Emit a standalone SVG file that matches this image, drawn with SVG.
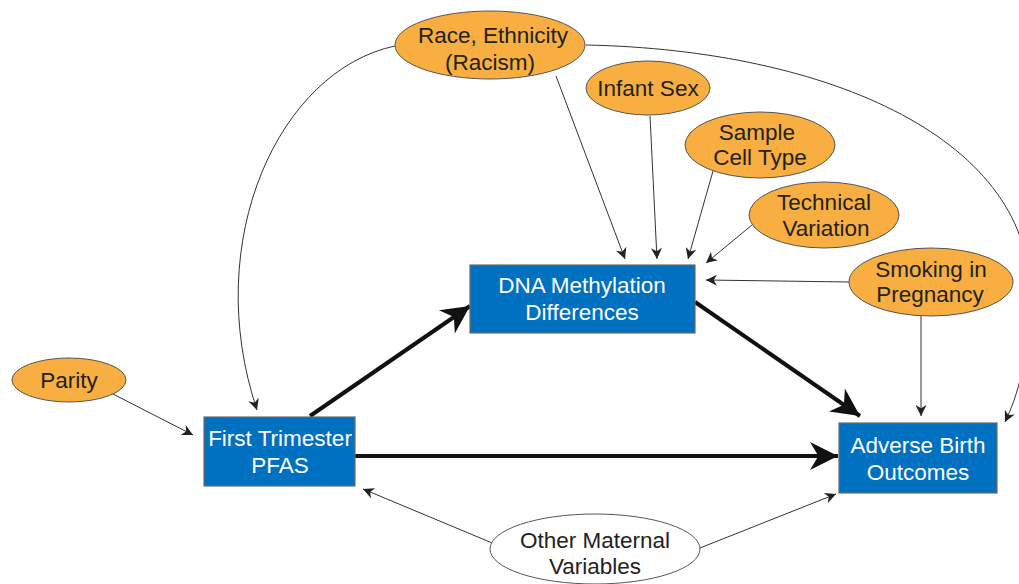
<svg xmlns="http://www.w3.org/2000/svg" width="1019" height="584" viewBox="0 0 1019 584">
<style>
.ell{fill:#F8AE40;stroke:#555;stroke-width:1}
.ellw{fill:#fff;stroke:#555;stroke-width:1}
.box{fill:#0070C0;stroke:#6b6b6b;stroke-width:1.2}
.t{font-family:"Liberation Sans",Arial,sans-serif;font-size:22.5px;text-anchor:middle;fill:#222}
.tw{font-family:"Liberation Sans",Arial,sans-serif;font-size:22.5px;text-anchor:middle;fill:#fff}
.thin{fill:none;stroke:#333;stroke-width:1;marker-end:url(#sm)}
.thick{fill:none;stroke:#111;stroke-width:4;marker-end:url(#big)}
</style>
<defs>
<marker id="sm" viewBox="0 0 10 10" refX="10" refY="5" markerWidth="12" markerHeight="11" markerUnits="userSpaceOnUse" orient="auto">
<path d="M0,0 L10,5 L0,10 L3,5 Z" fill="#222"/>
</marker>
<marker id="big" viewBox="0 0 10 10" refX="10" refY="5" markerWidth="32" markerHeight="28" markerUnits="userSpaceOnUse" orient="auto">
<path d="M0,0 L10,5 L0,10 L3,5 Z" fill="#111"/>
</marker>
</defs>
<rect width="1019" height="584" fill="#fff"/>
<g id="connectors">
<path class="thick" d="M310,416 L470,306"/>
<path class="thick" d="M695,302 L860,416"/>
<path class="thick" d="M355,456 L838,456"/>
<path class="thin" d="M395,46 C280,70 200,240 257,410"/>
<path class="thin" d="M556,76 L625,259"/>
<path class="thin" d="M586,45 C830,50 1035,140 1030,300 C1028,360 1018,395 1005,422"/>
<path class="thin" d="M650,116 L657,259"/>
<path class="thin" d="M713,171 L688,259"/>
<path class="thin" d="M752,225 L706,263"/>
<path class="thin" d="M849,282 L706,280"/>
<path class="thin" d="M921,316 L921,416"/>
<path class="thin" d="M113,394 L193,435"/>
<path class="thin" d="M497,545 L363,489"/>
<path class="thin" d="M700,548 L836,494"/>
</g>
<g id="race"><ellipse class="ell" cx="490" cy="45" rx="95" ry="34"/><text class="t" x="493" y="43">Race, Ethnicity</text><text class="t" x="490" y="70">(Racism)</text></g>
<g id="infant"><ellipse class="ell" cx="648" cy="88" rx="62" ry="27"/><text class="t" x="648" y="96">Infant Sex</text></g>
<g id="cell"><ellipse class="ell" cx="760" cy="145" rx="75" ry="33"/><text class="t" x="757" y="140">Sample</text><text class="t" x="760" y="165">Cell Type</text></g>
<g id="tech"><ellipse class="ell" cx="824" cy="215" rx="75" ry="33"/><text class="t" x="824" y="210">Technical</text><text class="t" x="826" y="236">Variation</text></g>
<g id="smoking"><ellipse class="ell" cx="931" cy="282" rx="82" ry="34"/><text class="t" x="931" y="277">Smoking in</text><text class="t" x="930" y="302">Pregnancy</text></g>
<g id="parity"><ellipse class="ell" cx="69" cy="380" rx="57" ry="22"/><text class="t" x="69" y="388">Parity</text></g>
<g id="other"><ellipse class="ellw" cx="595" cy="549" rx="105" ry="35"/><text class="t" x="595" y="548">Other Maternal</text><text class="t" x="595" y="574">Variables</text></g>
<g id="dna"><rect class="box" x="470" y="265" width="225" height="68"/><text class="tw" x="582" y="293">DNA Methylation</text><text class="tw" x="582" y="320">Differences</text></g>
<g id="pfas"><rect class="box" x="204" y="417" width="151" height="69"/><text class="tw" x="280" y="446">First Trimester</text><text class="tw" x="280" y="473">PFAS</text></g>
<g id="adverse"><rect class="box" x="839" y="423" width="158" height="70"/><text class="tw" x="918" y="453">Adverse Birth</text><text class="tw" x="918" y="480">Outcomes</text></g>
</svg>
